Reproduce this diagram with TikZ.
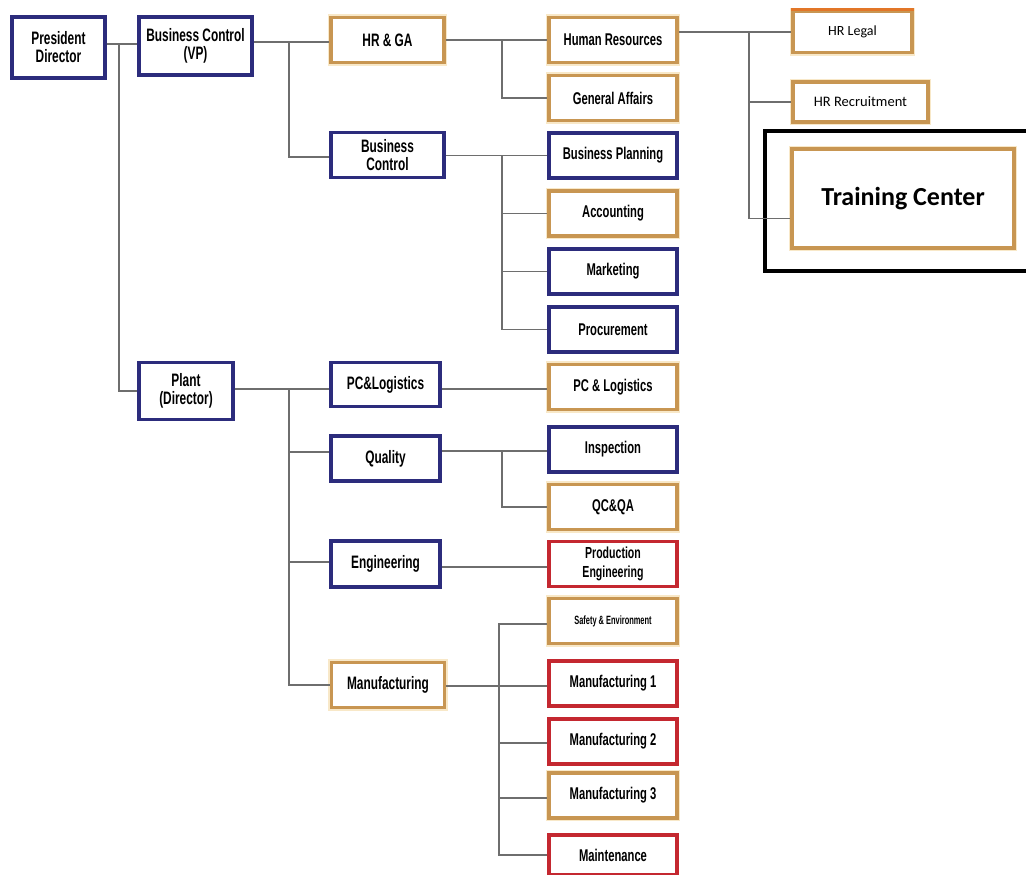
\documentclass[tikz,border=0pt]{standalone}
\usepackage{fontspec}
\setmainfont{Liberation Sans}[FakeStretch=0.66]
\newfontfamily\tcfont{Carlito}
\newfontfamily\smallnarrow{Liberation Sans}[FakeStretch=0.62]
\definecolor{navyc}{RGB}{44,44,124}
\definecolor{tanc}{RGB}{200,150,82}
\definecolor{tanglow}{RGB}{248,232,200}
\definecolor{redc}{RGB}{196,40,48}
\definecolor{hrtop}{RGB}{226,118,40}
\definecolor{linec}{RGB}{110,110,110}
\tikzset{
  box/.style={draw, line width=3.2pt, fill=white, align=center, inner sep=1pt,
    font=\fontsize{18}{18}\selectfont\bfseries},
  navybox/.style={box, draw=navyc},
  tanbox/.style={box, draw=tanc, preaction={draw=tanglow, line width=6.5pt}},
  redbox/.style={box, draw=redc},
  lw/.style={minimum width=113pt, minimum height=45pt},
  rw/.style={minimum width=128pt, minimum height=45pt, font=\fontsize{17}{17}\selectfont\bfseries},
  conn/.style={draw=linec, line width=1.8pt},
  frame/.style={draw=black, line width=4pt, minimum width=270pt, minimum height=140pt}
}
\begin{document}
\begin{tikzpicture}[x=1pt,y=-1pt]
\useasboundingbox (0,0) rectangle (1026,875);
\fill[white] (0,0) rectangle (1026,875);

% highlight frame around the training centre
\node[frame] (hl) at (900,201) {};

% top level
\node[navybox, minimum width=93pt, minimum height=61pt] (pd) at (58.5,47.5) {President\\Director};
\node[navybox, minimum width=113pt, minimum height=58pt] (bcvp) at (195.5,46) {Business Control\\(VP)};
\node[navybox, minimum width=94pt, minimum height=57pt] (plant) at (186,391) {Plant\\(Director)};

% business control branch
\node[tanbox, lw] (hrga) at (387.5,40) {HR \& GA};
\node[navybox, lw] (bc) at (387.5,155) {Business\\Control};
\node[tanbox, rw] (hr) at (613,40) {Human Resources};
\node[tanbox, rw] (ga) at (613,98) {General Affairs};
\node[navybox, rw] (bp) at (613,155.5) {Business Planning};
\node[tanbox, rw] (acc) at (613,213.5) {Accounting};
\node[navybox, rw] (mkt) at (613,271.5) {Marketing};
\node[navybox, rw] (proc) at (613,329.5) {Procurement};

% human resources sub units
\node[tanbox, minimum width=119pt, minimum height=41pt, font=\tcfont\fontsize{14}{15}\selectfont] (hrl) at (852.5,32) {HR Legal};
\draw[hrtop, line width=3.2pt] (hrl.north west) -- (hrl.north east);
\node[tanbox, minimum width=135pt, minimum height=40pt, font=\tcfont\fontsize{14.5}{15}\selectfont] (hrr) at (860.5,102) {HR Recruitment};
\node[tanbox, minimum width=222pt, minimum height=99pt, font=\tcfont\fontsize{26}{28}\selectfont\bfseries] (tc) at (903,198.5) {Training Center};

% plant branch
\node[navybox, minimum width=109pt, minimum height=44pt] (pcl) at (385.5,384.5) {PC\&Logistics};
\node[navybox, minimum width=109pt, minimum height=45pt] (qual) at (385.5,458.5) {Quality};
\node[navybox, minimum width=109pt, minimum height=46pt] (eng) at (385.5,564) {Engineering};
\node[tanbox, lw] (manu) at (388,685) {Manufacturing};

\node[tanbox, rw] (pcl2) at (613,387) {PC \& Logistics};
\node[navybox, rw] (insp) at (613,449.5) {Inspection};
\node[tanbox, rw] (qcqa) at (613,507) {QC\&QA};
\node[redbox, rw, font=\fontsize{16}{19}\selectfont\bfseries] (pe) at (613,564) {Production\\Engineering};
\node[tanbox, rw, font=\smallnarrow\fontsize{12}{12}\selectfont\bfseries] (se) at (613,621) {Safety \& Environment};
\node[redbox, rw] (m1) at (613,683.5) {Manufacturing 1};
\node[redbox, rw] (m2) at (613,741.5) {Manufacturing 2};
\node[tanbox, rw] (m3) at (613,795.5) {Manufacturing 3};
\node[redbox, rw, minimum height=40pt] (mt) at (613,855) {Maintenance};

% junctions of the tree
\coordinate (j1) at (119,44);
\coordinate (j2) at (289,42);
\coordinate (j3) at (502,40);
\coordinate (j4) at (502,155.5);
\coordinate (j5) at (749,32);
\coordinate (j6) at (289,389);
\coordinate (j7) at (502,451);
\coordinate (j8) at (499,686);

% connectors
\draw[conn] (pd.east |- j1) -- (bcvp.west |- j1);
\draw[conn] (j1) |- (plant.west);
\draw[conn] (bcvp.east |- j2) -- (hrga.west |- j2);
\draw[conn] (j2) |- (bc.west |- 0,157);
\draw[conn] (hrga.east) -- (hr.west);
\draw[conn] (j3) |- (ga.west);
\draw[conn] (bc.east |- j4) -- (bp.west |- j4);
\draw[conn] (j4) |- (acc.west);
\draw[conn] (j4) |- (mkt.west);
\draw[conn] (j4) |- (proc.west);
\draw[conn] (hr.east |- hrl.west) -- (hrl.west);
\draw[conn] (j5) |- (hrr.west);
\draw[conn] (j5) |- ([yshift=-20pt]tc.west);
\draw[conn] (plant.east |- j6) -- (pcl.west |- j6);
\draw[conn] (pcl.east |- j6) -- (pcl2.west |- j6);
\draw[conn] (j6) |- (qual.west |- 0,452);
\draw[conn] (j6) |- (eng.west |- 0,562);
\draw[conn] (j6) |- (manu.west);
\draw[conn] (qual.east |- j7) -- (insp.west |- j7);
\draw[conn] (j7) |- (qcqa.west);
\draw[conn] (eng.east |- 0,567) -- (pe.west |- 0,567);
\draw[conn] (manu.east |- j8) -- (m1.west |- j8);
\draw[conn] (j8) |- (se.west |- 0,624);
\draw[conn] (j8) |- (m2.west |- 0,743);
\draw[conn] (j8) |- (m3.west |- 0,798);
\draw[conn] (j8) |- (mt.west);
\end{tikzpicture}
\end{document}
